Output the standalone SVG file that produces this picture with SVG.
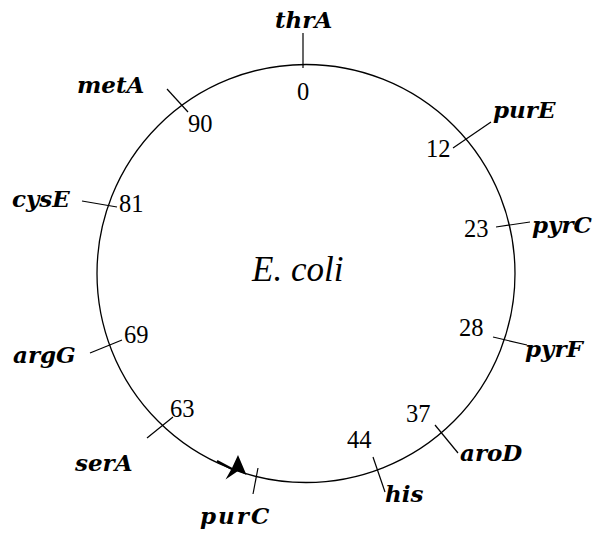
<svg xmlns="http://www.w3.org/2000/svg" width="603" height="533" viewBox="0 0 603 533">
<style>
.gene{font-family:"DejaVu Serif","Liberation Serif",serif;font-weight:bold;font-style:italic;font-size:23px;fill:#000}
.num{font-family:"Liberation Serif","Times New Roman",serif;font-size:24.5px;fill:#000}
.title{font-family:"Liberation Serif","Times New Roman",serif;font-style:italic;font-size:35px;fill:#000}
.tick{stroke:#000;stroke-width:1.2;fill:none}
</style>
<rect width="603" height="533" fill="#fff"/>
<g id="chromosome">
<circle cx="306" cy="273.5" r="209" fill="none" stroke="#000" stroke-width="1.3"/>
<text class="title" x="252" y="281">E. coli</text>
</g>
<g id="connectors">
<line class="tick" x1="303" y1="33" x2="303" y2="68"/>
<line class="tick" x1="167" y1="89" x2="188" y2="112"/>
<line class="tick" x1="82" y1="201" x2="117" y2="207"/>
<line class="tick" x1="453" y1="148" x2="491" y2="122"/>
<line class="tick" x1="496" y1="227" x2="530" y2="222"/>
<line class="tick" x1="90" y1="353" x2="122" y2="340"/>
<line class="tick" x1="147" y1="438" x2="173" y2="417"/>
<line class="tick" x1="493" y1="337" x2="527" y2="345"/>
<line class="tick" x1="435" y1="425" x2="458" y2="453"/>
<line class="tick" x1="373" y1="457" x2="385" y2="492"/>
<line class="tick" x1="258" y1="468" x2="253" y2="494"/>
<path d="M217 461 L232 469" stroke="#000" stroke-width="2.2" fill="none"/>
<polygon points="238,455 246.5,475 238,471 225.5,479.5 232,468" fill="#000"/>
</g>
<g id="thrA"><text class="gene" x="275" y="28">thrA</text><text class="num" x="297" y="100">0</text></g>
<g id="metA"><text class="gene" x="77" y="93">metA</text><text class="num" x="188" y="132">90</text></g>
<g id="cysE"><text class="gene" x="12" y="207">cysE</text><text class="num" x="119" y="212">81</text></g>
<g id="purE"><text class="gene" x="493" y="118">purE</text><text class="num" x="426" y="157">12</text></g>
<g id="pyrC"><text class="gene" x="532" y="233">pyrC</text><text class="num" x="464" y="237">23</text></g>
<g id="pyrF"><text class="gene" x="525" y="357">pyrF</text><text class="num" x="459" y="336">28</text></g>
<g id="aroD"><text class="gene" x="460" y="461">aroD</text><text class="num" x="406" y="422">37</text></g>
<g id="his"><text class="gene" x="385" y="502">his</text><text class="num" x="347" y="448">44</text></g>
<g id="purC"><text class="gene" x="200" y="524" letter-spacing="2">purC</text></g>
<g id="serA"><text class="gene" x="75" y="471">serA</text><text class="num" x="170" y="417">63</text></g>
<g id="argG"><text class="gene" x="13" y="363">argG</text><text class="num" x="124" y="343">69</text></g>
</svg>
